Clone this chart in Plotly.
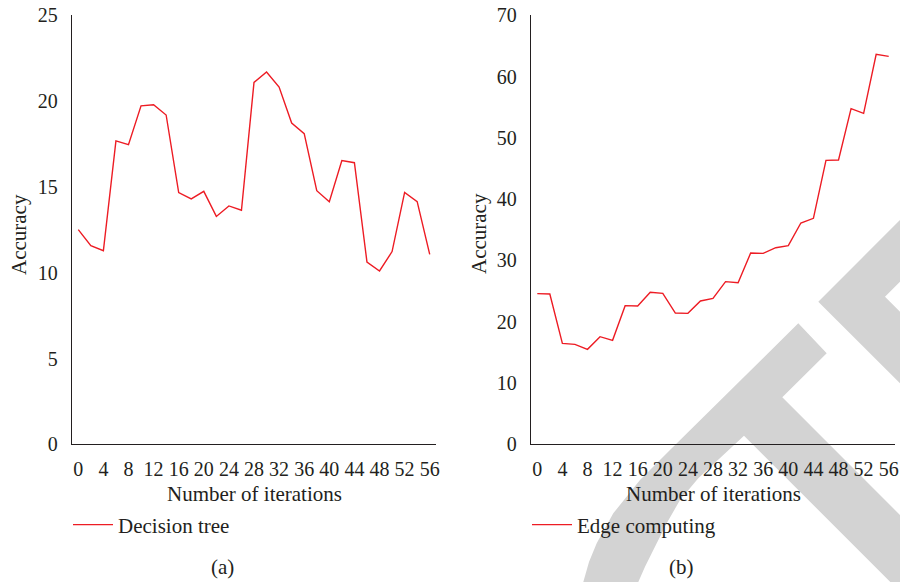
import plotly.graph_objects as go

# Iteration counts on the x axis (one sample every 2 iterations)
iterations = [0, 2, 4, 6, 8, 10, 12, 14, 16, 18, 20, 22, 24, 26, 28,
              30, 32, 34, 36, 38, 40, 42, 44, 46, 48, 50, 52, 54, 56]

# Accuracy of the decision-tree model, panel (a)
decision_tree = [12.51, 11.58, 11.28, 17.68, 17.46, 19.72, 19.79, 19.19, 14.67, 14.30,
                 14.74, 13.28, 13.89, 13.64, 21.09, 21.70, 20.82, 18.72, 18.10, 14.78,
                 14.14, 16.53, 16.41, 10.62, 10.10, 11.23, 14.68, 14.14, 11.07]

# Accuracy of the edge-computing model, panel (b)
edge_computing = [24.58, 24.53, 16.47, 16.31, 15.50, 17.56, 16.96, 22.62, 22.57, 24.80,
                  24.63, 21.42, 21.37, 23.38, 23.82, 26.54, 26.37, 31.21, 31.16, 32.08,
                  32.41, 36.11, 36.87, 46.33, 46.39, 54.76, 54.00, 63.63, 63.30]

x_ticks = [0, 4, 8, 12, 16, 20, 24, 28, 32, 36, 40, 44, 48, 52, 56]
y_ticks_a = [0, 5, 10, 15, 20, 25]
y_ticks_b = [0, 10, 20, 30, 40, 50, 60, 70]

W, H = 900, 582
FONT = "Liberation Serif"
INK = "#231f20"
RED = "#ed1c24"
GREY = "rgb(211,211,211)"


def px(x, y):
    """Pixel position -> paper coordinates."""
    return x / W, 1 - y / H


def path(points):
    pts = [px(x, y) for x, y in points]
    return "M " + " L ".join(f"{a:.5f},{b:.5f}" for a, b in pts) + " Z"


# Light grey background stamp in the lower-right corner
stamp_1 = [(798.3, 323.3), (826.7, 353.3), (782.3, 397.3), (900, 515), (900, 582),
           (890.3, 582), (744.0, 435.7), (698.3, 478.3), (680.0, 500.0),
           (666.7, 523.3), (656.7, 543.3), (645.0, 566.7), (638.3, 582),
           (583.3, 582), (589.0, 562.0), (596.7, 543.3), (613.3, 513.3),
           (640.0, 480.0), (670.0, 450.0)]
stamp_2 = [(818.3, 301.7), (900, 220), (900, 281.7), (885, 296.7), (900, 311.7),
           (900, 383.3)]

fig = go.Figure()

fig.add_trace(go.Scatter(x=iterations, y=decision_tree, mode="lines", name="Decision tree",
                         line=dict(color=RED, width=1.4), xaxis="x", yaxis="y",
                         legend="legend", showlegend=True))
fig.add_trace(go.Scatter(x=iterations, y=edge_computing, mode="lines", name="Edge computing",
                         line=dict(color=RED, width=1.4), xaxis="x2", yaxis="y2",
                         legend="legend2", showlegend=True))

y_bottom, y_top = px(0, 444.3)[1], px(0, 15.3)[1]

axis_common = dict(showgrid=False, zeroline=False, showline=True, linecolor=INK,
                   linewidth=1.3, ticks="", automargin=False,
                   tickfont=dict(family=FONT, size=20, color=INK))

legend_common = dict(xanchor="left", yanchor="middle", bgcolor="rgba(0,0,0,0)",
                     borderwidth=0, itemwidth=40,
                     font=dict(family=FONT, size=21, color=INK))

fig.update_layout(
    template="none",
    width=W, height=H,
    margin=dict(l=0, r=0, t=0, b=0, pad=0, autoexpand=False),
    paper_bgcolor="white", plot_bgcolor="rgba(0,0,0,0)",
    showlegend=True,
    xaxis=dict(domain=[72 / W, 436 / W], range=[-1, 57], tickvals=x_ticks,
               anchor="y", ticklabelstandoff=7, **axis_common),
    yaxis=dict(domain=[y_bottom, y_top], range=[0, 25], tickvals=y_ticks_a,
               anchor="x", ticklabelstandoff=9, **axis_common),
    xaxis2=dict(domain=[531 / W, 895 / W], range=[-1, 57], tickvals=x_ticks,
                anchor="y2", ticklabelstandoff=7, **axis_common),
    yaxis2=dict(domain=[y_bottom, y_top], range=[0, 70], tickvals=y_ticks_b,
                anchor="x2", ticklabelstandoff=9, **axis_common),
    legend=dict(x=px(68, 0)[0], y=px(0, 525)[1], **legend_common),
    legend2=dict(x=px(527, 0)[0], y=px(0, 525)[1], **legend_common),
    shapes=[dict(type="path", xref="paper", yref="paper", path=path(stamp_1),
                 fillcolor=GREY, line=dict(width=0), layer="below"),
            dict(type="path", xref="paper", yref="paper", path=path(stamp_2),
                 fillcolor=GREY, line=dict(width=0), layer="below")],
)

title_font = dict(family=FONT, size=21, color=INK)
labels = [
    ("Number of iterations", 254, 494, 0),
    ("Number of iterations", 713, 494, 0),
    ("Accuracy", 19, 235, -90),
    ("Accuracy", 479, 234, -90),
    ("(a)", 222, 567, 0),
    ("(b)", 681.5, 567, 0),
]
for text, x, y, ang in labels:
    ax, ay = px(x, y)
    fig.add_annotation(text=text, x=ax, y=ay, xref="paper", yref="paper",
                       xanchor="center", yanchor="middle", showarrow=False,
                       textangle=ang, font=title_font)

fig.write_html("out.html")
